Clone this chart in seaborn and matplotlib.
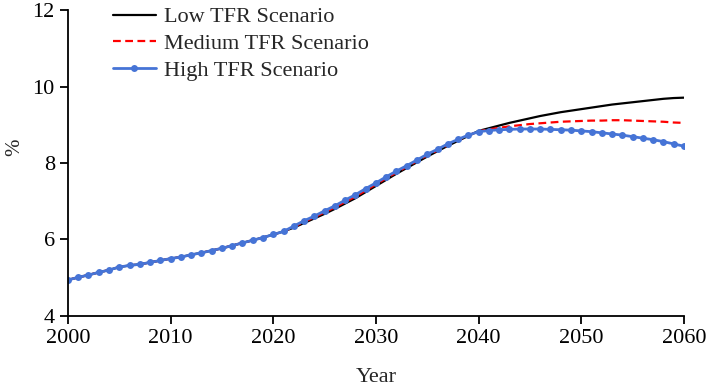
import matplotlib
matplotlib.use("Agg")
import matplotlib.pyplot as plt
import numpy as np
import pandas as pd
import seaborn as sns

# share of population (%), three fertility scenarios
YEARS = list(range(2000, 2061))

HIGH_TFR = [
    4.94, 5.01, 5.07, 5.14, 5.20, 5.28, 5.32, 5.35, 5.40, 5.45,
    5.50, 5.54, 5.60, 5.65, 5.71, 5.77, 5.84, 5.91, 5.98, 6.05,
    6.13, 6.21, 6.35, 6.49, 6.61, 6.75, 6.88, 7.03, 7.17, 7.33,
    7.48, 7.64, 7.79, 7.93, 8.08, 8.23, 8.36, 8.50, 8.62, 8.73,
    8.82, 8.85, 8.87, 8.88, 8.89, 8.89, 8.89, 8.88, 8.87, 8.86,
    8.84, 8.82, 8.79, 8.76, 8.73, 8.69, 8.65, 8.61, 8.56, 8.50,
    8.44,
]
MEDIUM_TFR = [
    4.94, 5.01, 5.07, 5.14, 5.20, 5.28, 5.32, 5.35, 5.40, 5.45,
    5.50, 5.54, 5.60, 5.65, 5.71, 5.77, 5.84, 5.91, 5.98, 6.05,
    6.13, 6.21, 6.33, 6.46, 6.58, 6.71, 6.84, 6.98, 7.12, 7.28,
    7.44, 7.60, 7.75, 7.90, 8.05, 8.20, 8.33, 8.47, 8.60, 8.72,
    8.83, 8.88, 8.92, 8.96, 8.99, 9.02, 9.04, 9.06, 9.08, 9.09,
    9.10, 9.11, 9.11, 9.12, 9.12, 9.11, 9.10, 9.09, 9.08, 9.06,
    9.05,
]
LOW_TFR = [
    4.94, 5.01, 5.07, 5.14, 5.20, 5.28, 5.32, 5.35, 5.40, 5.45,
    5.50, 5.54, 5.60, 5.65, 5.71, 5.77, 5.84, 5.91, 5.98, 6.05,
    6.13, 6.21, 6.31, 6.43, 6.55, 6.67, 6.80, 6.94, 7.08, 7.24,
    7.40, 7.56, 7.72, 7.87, 8.02, 8.17, 8.31, 8.45, 8.58, 8.71,
    8.84, 8.91, 8.98, 9.05, 9.11, 9.17, 9.23, 9.28, 9.33, 9.37,
    9.41, 9.45, 9.49, 9.53, 9.56, 9.59, 9.62, 9.65, 9.68, 9.70,
    9.71,
]

sns.set_style("ticks")
plt.rcParams["font.family"] = ["Liberation Serif", "DejaVu Serif"]

fig = plt.figure(figsize=(7.08, 3.9), dpi=100)
ax = fig.add_axes([0.096, 0.19, 0.870, 0.784])

sns.lineplot(x=YEARS, y=LOW_TFR, ax=ax, color="black", linewidth=1.6,
             label="Low TFR Scenario")
sns.lineplot(x=YEARS, y=MEDIUM_TFR, ax=ax, color="#ff0000", linewidth=1.6,
             linestyle=(0, (3.5, 2)), label="Medium TFR Scenario")
sns.lineplot(x=YEARS, y=HIGH_TFR, ax=ax, color="#4674d6", linewidth=2.0,
             marker="o", markersize=5, markeredgewidth=0,
             label="High TFR Scenario")

ax.set_xlim(2000, 2060)
ax.set_ylim(4, 12)
ax.set_xticks(np.arange(2000, 2061, 10))
ax.set_yticks(np.arange(4, 13, 2))
ax.tick_params(labelsize=16, length=6, width=1.3, colors="black")
for side in ["left", "bottom"]:
    ax.spines[side].set_linewidth(1.3)
    ax.spines[side].set_color("black")
sns.despine(ax=ax)

ax.set_xlabel("Year", fontsize=16, va="top")
ax.xaxis.set_label_coords(0.5, -0.17)
ax.set_ylabel("%", fontsize=15, va="center", ha="center")
ax.yaxis.set_label_coords(-0.086, 0.55)

ax.legend(loc="upper left", bbox_to_anchor=(0.04, 1.076), frameon=False,
          fontsize=16, handlelength=1.95, handletextpad=0.35, labelspacing=0.28)

plt.savefig("out.png", dpi=100)
plt.close()
